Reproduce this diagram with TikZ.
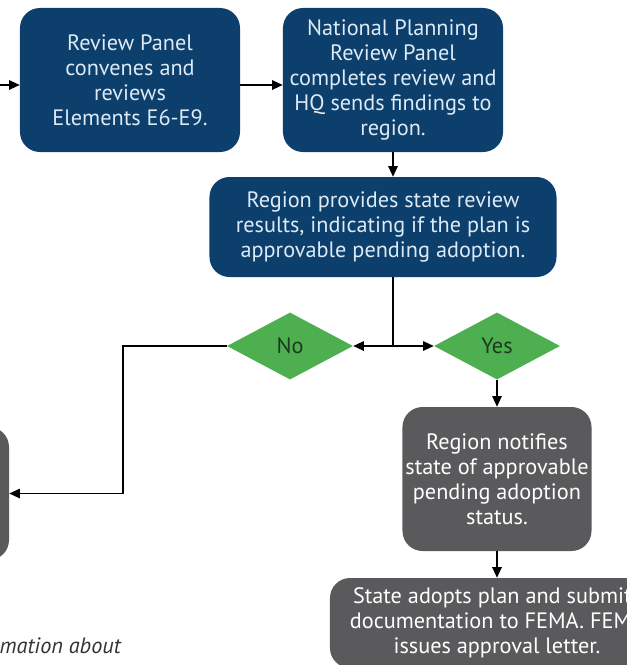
\documentclass[tikz,border=0pt]{standalone}
\usepackage{fontspec}
\setmainfont{PT Sans}
\usetikzlibrary{shapes.geometric, arrows.meta, positioning}
\definecolor{navy}{HTML}{0C3F6B}
\definecolor{navytext}{HTML}{DDEAF6}
\definecolor{slate}{HTML}{5A5A5C}
\definecolor{leaf}{HTML}{4DAF4F}
\definecolor{leaftext}{HTML}{1E3A1E}
\newcommand\boxfont{\fontsize{19}{21.3}\selectfont}

\begin{document}
\begin{tikzpicture}[x=0.03cm, y=-0.03cm,
    flow/.style={line width=1.2pt, -{Triangle[length=9pt, width=8pt]}},
    navybox/.style={fill=navy, text=navytext, rounded corners=0.6cm, align=center, font=\boxfont, inner sep=2pt},
    slatebox/.style={fill=slate, text=white, rounded corners=0.6cm, align=center, font=\boxfont, inner sep=2pt},
    choice/.style={diamond, fill=leaf, text=leaftext, font=\boxfont, inner sep=0pt, minimum width=3.78cm, minimum height=2.01cm, aspect=1.88}]
  \useasboundingbox (0,0) rectangle (627,665);
  \clip (0,0) rectangle (627,665);

  \node [navybox, minimum width=6.6cm, minimum height=4.32cm] (panel) at (130,80)
    {Review Panel\\convenes and\\reviews\\Elements E6-E9.};
  \node [navybox, minimum width=6.6cm, minimum height=4.32cm] (national) at (393,80)
    {National Planning\\Review Panel\\completes review and\\HQ sends findings to\\region.};
  \node [navybox, minimum width=10.41cm, minimum height=3cm] (results) at (383,227)
    {Region provides state review\\results, indicating if the plan is\\approvable pending adoption.};

  \node [choice] (no) at (290,346) {No};
  \node [choice] (yes) at (497,346) {Yes};

  \node [slatebox, minimum width=6.27cm, minimum height=3.99cm] (revise) at (-95.5,493.5) {};
  \node [slatebox, minimum width=5.67cm, minimum height=4.32cm] (notify) at (497,479)
    {Region notifies\\state of approvable\\pending adoption\\status.};
  \node [slatebox, minimum width=10.02cm, minimum height=2.7cm] (adopt) at (497,623)
    {State adopts plan and submits\\documentation to FEMA. FEMA\\issues approval letter.};

  \node [anchor=east, inner sep=0pt, font=\fontsize{19}{22}\selectfont\itshape, text=black!80] (note) at (121,646) {mation about};

  % connectors
  \coordinate (in) at (0,85);
  \coordinate (split) at (393,346);
  \coordinate (elbow) at (123,420);
  \draw [flow] (in) -- (in -| panel.west);
  \draw [flow] (panel.east |- in) -- (national.west |- in);
  \draw [flow] (national.south) -- (national.south |- results.north);
  \draw [line width=1.2pt] (results.south -| split) -- (split);
  \draw [flow] (split) -- (no.east);
  \draw [flow] (split) -- (yes.west);
  \draw [flow] (no.west) -| (elbow) |- (revise.east);
  \draw [flow] (yes.south) -- (notify.north);
  \draw [flow] (notify.south) -- (adopt.north);
\end{tikzpicture}
\end{document}
